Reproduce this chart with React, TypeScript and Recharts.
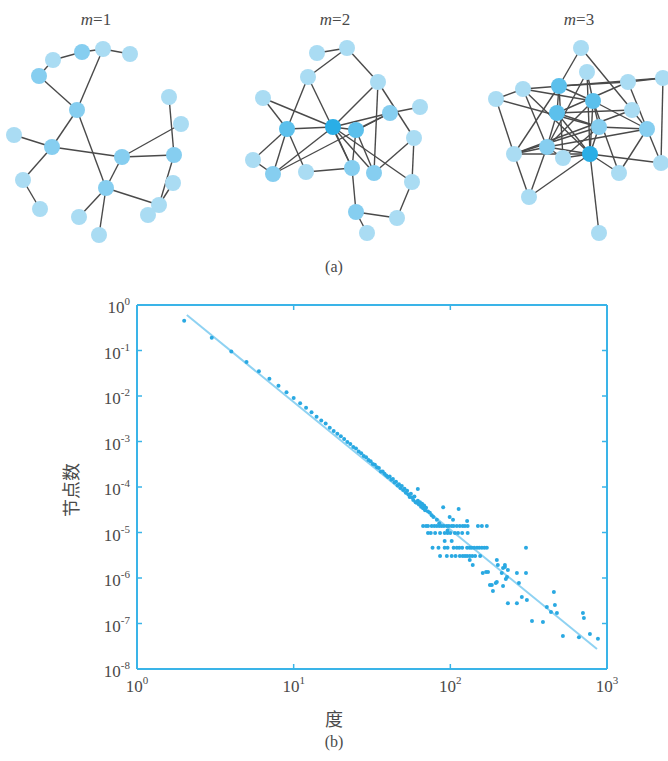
import React, { useEffect } from 'react';
import { ScatterChart, Scatter, XAxis, YAxis } from 'recharts';

// ---------- network (a) data: node layout positions and edges ----------
const nodeShades = ['#aadcf3', '#86cef0', '#5cc0ec', '#2aaee6'];
const edgeColor = '#4a4a4a';

const net1Nodes = [
  { x: 53, y: 60, s: 0 }, { x: 39, y: 76, s: 1 }, { x: 82, y: 52, s: 1 }, { x: 103, y: 49, s: 0 },
  { x: 130, y: 54, s: 0 }, { x: 77, y: 110, s: 1 }, { x: 14, y: 135, s: 0 }, { x: 52, y: 147, s: 1 },
  { x: 23, y: 180, s: 0 }, { x: 40, y: 209, s: 0 }, { x: 122, y: 157, s: 1 }, { x: 174, y: 155, s: 1 },
  { x: 169, y: 97, s: 0 }, { x: 181, y: 124, s: 0 }, { x: 173, y: 183, s: 0 }, { x: 159, y: 205, s: 0 },
  { x: 148, y: 215, s: 0 }, { x: 106, y: 188, s: 1 }, { x: 79, y: 217, s: 0 }, { x: 99, y: 235, s: 0 },
];
const net1Edges = [
  [0, 1], [0, 2], [2, 3], [3, 4], [3, 5], [1, 5], [5, 7], [5, 17], [6, 7], [7, 10], [7, 8], [8, 9],
  [10, 11], [10, 13], [10, 17], [12, 11], [11, 15], [14, 15], [15, 16], [17, 15], [17, 18], [17, 19],
];

const net2Nodes = [
  { x: 317, y: 53, s: 0 }, { x: 347, y: 48, s: 0 }, { x: 308, y: 77, s: 0 }, { x: 378, y: 82, s: 0 },
  { x: 263, y: 98, s: 0 }, { x: 420, y: 107, s: 0 }, { x: 390, y: 113, s: 1 }, { x: 287, y: 129, s: 2 },
  { x: 333, y: 127, s: 3 }, { x: 356, y: 130, s: 2 }, { x: 414, y: 138, s: 0 }, { x: 253, y: 160, s: 0 },
  { x: 273, y: 174, s: 1 }, { x: 306, y: 172, s: 0 }, { x: 352, y: 168, s: 1 }, { x: 374, y: 173, s: 1 },
  { x: 412, y: 182, s: 0 }, { x: 356, y: 212, s: 1 }, { x: 397, y: 218, s: 0 }, { x: 367, y: 233, s: 0 },
];
const net2Edges = [
  [0, 1], [1, 2], [1, 3], [2, 7], [2, 14], [3, 8], [3, 10], [3, 15], [4, 7], [4, 8], [5, 6], [6, 12],
  [6, 8], [6, 9], [7, 8], [7, 11], [7, 12], [7, 13], [8, 9], [8, 12], [8, 14], [8, 15], [8, 16], [9, 15],
  [9, 14], [10, 16], [10, 15], [11, 12], [13, 14], [14, 17], [16, 18], [17, 18], [17, 19],
];

const net3Nodes = [
  { x: 581, y: 48, s: 0 }, { x: 587, y: 72, s: 0 }, { x: 663, y: 78, s: 0 }, { x: 628, y: 82, s: 0 },
  { x: 523, y: 89, s: 0 }, { x: 559, y: 86, s: 2 }, { x: 496, y: 99, s: 0 }, { x: 593, y: 101, s: 2 },
  { x: 632, y: 110, s: 0 }, { x: 557, y: 113, s: 2 }, { x: 599, y: 127, s: 1 }, { x: 647, y: 129, s: 1 },
  { x: 547, y: 147, s: 1 }, { x: 514, y: 154, s: 0 }, { x: 563, y: 158, s: 0 }, { x: 590, y: 154, s: 3 },
  { x: 661, y: 163, s: 0 }, { x: 619, y: 173, s: 0 }, { x: 529, y: 197, s: 0 }, { x: 599, y: 233, s: 0 },
];
const net3Edges = [
  [0, 5], [0, 8], [1, 7], [1, 12], [1, 15], [2, 3], [2, 4], [2, 16], [3, 5], [3, 11], [3, 9], [4, 6],
  [4, 15], [4, 7], [4, 12], [5, 9], [5, 7], [5, 13], [5, 14], [6, 13], [6, 10], [7, 10], [7, 15],
  [7, 12], [7, 11], [7, 17], [8, 9], [8, 11], [8, 13], [9, 10], [9, 15], [9, 12], [10, 11], [10, 15],
  [10, 13], [11, 16], [11, 17], [11, 12], [12, 13], [12, 14], [12, 15], [12, 18], [13, 15], [13, 18],
  [14, 15], [15, 16], [15, 17], [15, 19], [15, 18], [14, 10],
];

const networkTitles = ['1', '2', '3'];

// ---------- degree distribution (b) data ----------
const headPoints: [number, number][] = [
  [2, 0.45], [3, 0.19], [4, 0.095], [5, 0.056], [6, 0.035], [7, 0.024], [8, 0.0167], [9, 0.0121],
  [10, 0.009], [11, 0.0069], [12, 0.0055], [13, 0.0044], [14, 0.0035], [15, 0.0029], [16, 0.0025],
  [17, 0.002], [18, 0.0017], [19, 0.00148], [20, 0.0013], [21, 0.00113], [22, 0.00097], [23, 0.00088],
  [24, 0.00076], [25, 0.0007], [26, 0.0006], [27, 0.00055], [28, 0.00048], [29, 0.00045], [30, 0.00039],
  [31, 0.00037], [32, 0.00032], [33, 0.00031], [34, 0.00027], [35, 0.00026], [36, 0.00022], [37, 0.00022],
  [38, 0.000195], [39, 0.00018], [40, 0.000165],
];
const bandPoints: [number, number][] = [
  [41, 1.7e-4], [42, 1.45e-4], [43, 1.5e-4], [44, 1.25e-4], [45, 1.3e-4], [46, 1.08e-4], [47, 1.15e-4],
  [48, 9.5e-5], [49, 1.05e-4], [50, 8.6e-5], [51, 9.2e-5], [52, 7.5e-5], [53, 8.3e-5], [54, 6.8e-5],
  [55, 6.0e-5], [56, 7.1e-5], [57, 5.9e-5], [58, 5.2e-5], [59, 6.2e-5], [60, 4.6e-5], [61, 4.5e-5],
  [62, 5.0e-5], [63, 4.1e-5], [64, 4.6e-5], [65, 3.7e-5], [66, 4.3e-5], [67, 3.4e-5], [68, 3.9e-5],
  [69, 3.1e-5], [70, 3.5e-5], [72, 2.9e-5], [74, 2.7e-5], [76, 2.4e-5], [78, 2.2e-5], [82, 1.9e-5],
  [85, 1.6e-5], [96, 1.1e-5], [62, 9.0e-5], [90, 3.6e-5], [113, 3.3e-5], [99, 2.2e-5], [104, 1.9e-5],
  [128, 1.8e-5],
];
const tailPoints: [number, number][] = [
  [67, 1.39e-5], [70, 1.39e-5], [72, 1.39e-5], [76, 1.39e-5], [79, 1.39e-5], [82, 1.39e-5], [85, 1.39e-5],
  [88, 1.39e-5], [91, 1.39e-5], [95, 1.39e-5], [98, 1.39e-5], [102, 1.39e-5], [105, 1.39e-5], [110, 1.39e-5],
  [115, 1.39e-5], [120, 1.39e-5], [124, 1.39e-5], [129, 1.39e-5], [150, 1.39e-5], [159, 1.39e-5], [171, 1.39e-5],
  [72, 9.7e-6], [75, 9.7e-6], [80, 9.7e-6], [86, 9.7e-6], [92, 9.7e-6], [96, 9.7e-6], [100, 9.7e-6],
  [107, 9.7e-6], [112, 9.7e-6], [119, 9.7e-6], [129, 9.7e-6],
  [92, 6.5e-6], [102, 6.5e-6],
  [77, 4.6e-6], [84, 4.6e-6], [92, 4.6e-6], [96, 4.6e-6], [105, 4.6e-6], [110, 4.6e-6], [114, 4.6e-6],
  [119, 4.6e-6], [128, 4.6e-6], [133, 4.6e-6], [137, 4.6e-6], [142, 4.6e-6], [148, 4.6e-6], [153, 4.6e-6],
  [159, 4.6e-6], [165, 4.6e-6], [171, 4.6e-6], [304, 4.6e-6],
  [86, 3.05e-6], [95, 3.05e-6], [102, 3.05e-6], [108, 3.05e-6], [115, 3.05e-6], [120, 3.05e-6], [124, 3.05e-6],
  [128, 3.05e-6], [133, 3.05e-6], [138, 3.05e-6], [144, 3.05e-6], [155, 3.05e-6],
  [133, 2.5e-6], [139, 1.93e-6], [161, 1.29e-6], [169, 1.35e-6], [174, 1.35e-6],
  [198, 2.5e-6], [201, 1.93e-6], [223, 1.75e-6], [233, 1.5e-6], [213, 1.29e-6], [217, 1.66e-6], [223, 1.93e-6],
  [179, 7.0e-7], [184, 7.0e-7], [187, 5.2e-7], [195, 7.8e-7], [198, 8.2e-7], [217, 6.7e-7], [226, 9.5e-7],
  [230, 1.05e-6], [266, 1.29e-6], [274, 7.8e-7], [304, 1.29e-6],
  [233, 2.8e-7], [266, 2.8e-7], [286, 3.8e-7], [308, 3.3e-7], [332, 1.14e-7], [390, 1.08e-7],
  [413, 2.3e-7], [439, 1.8e-7], [458, 4.9e-7], [465, 2.55e-7], [479, 1.7e-7],
  [523, 5.3e-8], [662, 5.0e-8], [702, 1.7e-7], [712, 1.32e-7], [778, 5.9e-8], [875, 4.6e-8],
];
const fitLine = [
  { k: 2.08, p: 0.6 },
  { k: 863, p: 2.75e-8 },
];

const xTicks = [1, 10, 100, 1000];
const xTickExps = ['0', '1', '2', '3'];
const yTicks = [1, 1e-1, 1e-2, 1e-3, 1e-4, 1e-5, 1e-6, 1e-7, 1e-8];
const yTickExps = ['0', '-1', '-2', '-3', '-4', '-5', '-6', '-7', '-8'];

const AXIS = '#3ab4e8';
const DOT = '#2aa9e2';
const FIT = '#8fd2f2';
const TXT = '#4a4a4a';
const SERIF = '"Liberation Serif", "Times New Roman", "DejaVu Serif", serif';

const expFor = (ticks: number[], exps: string[], v: number) => {
  let best = 0;
  for (let i = 0; i < ticks.length; i++) {
    if (Math.abs(Math.log10(ticks[i]) - Math.log10(v)) < Math.abs(Math.log10(ticks[best]) - Math.log10(v))) best = i;
  }
  return exps[best];
};

const BottomTick = (props: any) => {
  const { x, y, payload } = props;
  return (
    <g>
      <line x1={x} y1={y} x2={x} y2={y - 5} stroke={AXIS} strokeWidth={1.5} />
      <text x={x} y={y + 23} textAnchor="middle" fill={TXT} fontSize={17} fontFamily={SERIF}>
        10<tspan dy={-8} fontSize={11}>{expFor(xTicks, xTickExps, payload.value)}</tspan>
      </text>
    </g>
  );
};
const TopTick = (props: any) => {
  const { x, y } = props;
  return <line x1={x} y1={y} x2={x} y2={y + 5} stroke={AXIS} strokeWidth={1.5} />;
};
const LeftTick = (props: any) => {
  const { x, y, payload } = props;
  return (
    <g>
      <line x1={x} y1={y} x2={x + 5} y2={y} stroke={AXIS} strokeWidth={1.5} />
      <text x={x - 7} y={y + 8} textAnchor="end" fill={TXT} fontSize={17} fontFamily={SERIF}>
        10<tspan dy={-8} fontSize={11}>{expFor(yTicks, yTickExps, payload.value)}</tspan>
      </text>
    </g>
  );
};
const RightTick = (props: any) => {
  const { x, y } = props;
  return <line x1={x} y1={y} x2={x - 5} y2={y} stroke={AXIS} strokeWidth={1.5} />;
};

const toObjs = (arr: [number, number][]) => arr.map(([k, p]) => ({ k, p }));

const NodeShape = (props: any) => {
  const { cx, cy, payload } = props;
  return <circle cx={cx} cy={cy} r={8} fill={nodeShades[payload.s]} />;
};
const DotShape = (props: any) => <circle cx={props.cx} cy={props.cy} r={2} fill={DOT} />;
const NoShape = () => <g />;

const networks = [
  { nodes: net1Nodes, edges: net1Edges },
  { nodes: net2Nodes, edges: net2Edges },
  { nodes: net3Nodes, edges: net3Edges },
];

const titlePos = [96, 335, 579];

export default function App() {
  useEffect(() => {
    document.body.style.margin = '0';
  }, []);
  return (
    <div style={{ position: 'fixed', left: 0, top: 0, width: 668, height: 761, background: '#fff', overflow: 'hidden' }}>
      {/* (a) networks */}
      <div style={{ position: 'absolute', left: 0, top: 0 }}>
        <ScatterChart width={668} height={255} margin={{ top: 0, right: 0, bottom: 0, left: 0 }}>
          <XAxis type="number" dataKey="x" domain={[0, 668]} hide allowDataOverflow />
          <YAxis type="number" dataKey="y" domain={[0, 255]} reversed hide allowDataOverflow />
          {networks.flatMap((net, ni) =>
            net.edges.map(([a, b], ei) => (
              <Scatter
                key={`e${ni}-${ei}`}
                data={[net.nodes[a], net.nodes[b]]}
                line={{ stroke: edgeColor, strokeWidth: 1.4 }}
                shape={NoShape}
                isAnimationActive={false}
              />
            ))
          )}
          {networks.map((net, ni) => (
            <Scatter key={`n${ni}`} data={net.nodes} shape={NodeShape} isAnimationActive={false} />
          ))}
        </ScatterChart>
      </div>
      {networkTitles.map((t, i) => (
        <div
          key={t}
          style={{
            position: 'absolute', left: titlePos[i] - 30, width: 60, top: 10, textAlign: 'center',
            fontFamily: SERIF, fontSize: 17, color: TXT, lineHeight: '20px',
          }}
        >
          <i>m</i>={t}
        </div>
      ))}
      <div style={{ position: 'absolute', left: 304, width: 60, top: 257, textAlign: 'center', fontFamily: SERIF, fontSize: 16, color: TXT, lineHeight: '20px' }}>
        (a)
      </div>

      {/* (b) degree distribution */}
      <div style={{ position: 'absolute', left: 0, top: 280 }}>
        <ScatterChart width={668} height={481} margin={{ top: 24, right: 60, bottom: 62, left: 60 }}>
          <XAxis
            xAxisId="b" type="number" dataKey="k" scale="log" domain={[1, 1000]} ticks={xTicks}
            allowDataOverflow height={30} tickSize={0} tickMargin={0} tickLine={false}
            axisLine={{ stroke: AXIS, strokeWidth: 2 }} tick={BottomTick} interval={0}
          />
          <XAxis
            xAxisId="t" orientation="top" type="number" dataKey="k" scale="log" domain={[1, 1000]} ticks={xTicks}
            allowDataOverflow height={1} tickSize={0} tickMargin={0} tickLine={false}
            axisLine={{ stroke: AXIS, strokeWidth: 2 }} tick={TopTick} interval={0}
          />
          <YAxis
            yAxisId="l" type="number" dataKey="p" scale="log" domain={[1e-8, 1]} ticks={yTicks}
            allowDataOverflow width={77} tickSize={0} tickMargin={0} tickLine={false}
            axisLine={{ stroke: AXIS, strokeWidth: 2 }} tick={LeftTick} interval={0}
          />
          <YAxis
            yAxisId="r" orientation="right" type="number" dataKey="p" scale="log" domain={[1e-8, 1]} ticks={yTicks}
            allowDataOverflow width={1} tickSize={0} tickMargin={0} tickLine={false}
            axisLine={{ stroke: AXIS, strokeWidth: 2 }} tick={RightTick} interval={0}
          />
          <Scatter xAxisId="t" yAxisId="r" data={fitLine} shape={NoShape} isAnimationActive={false} />
          <Scatter
            xAxisId="b" yAxisId="l" data={fitLine}
            line={{ stroke: FIT, strokeWidth: 2 }} shape={NoShape} isAnimationActive={false}
          />
          <Scatter xAxisId="b" yAxisId="l" data={toObjs(headPoints)} shape={DotShape} isAnimationActive={false} />
          <Scatter xAxisId="b" yAxisId="l" data={toObjs(bandPoints)} shape={DotShape} isAnimationActive={false} />
          <Scatter xAxisId="b" yAxisId="l" data={toObjs(tailPoints)} shape={DotShape} isAnimationActive={false} />
        </ScatterChart>
      </div>
      <div
        style={{
          position: 'absolute', left: 70 - 40, top: 490 - 12, width: 80, height: 24, textAlign: 'center',
          transform: 'rotate(-90deg)', fontFamily: '"Noto Sans CJK SC", sans-serif', fontSize: 18, color: TXT,
          lineHeight: '24px',
        }}
      >
        节点数
      </div>
      <div style={{ position: 'absolute', left: 304, width: 60, top: 706, textAlign: 'center', fontFamily: '"Noto Sans CJK SC", sans-serif', fontSize: 18, color: TXT, lineHeight: '24px' }}>
        度
      </div>
      <div style={{ position: 'absolute', left: 304, width: 60, top: 732, textAlign: 'center', fontFamily: SERIF, fontSize: 16, color: TXT, lineHeight: '20px' }}>
        (b)
      </div>
    </div>
  );
}
